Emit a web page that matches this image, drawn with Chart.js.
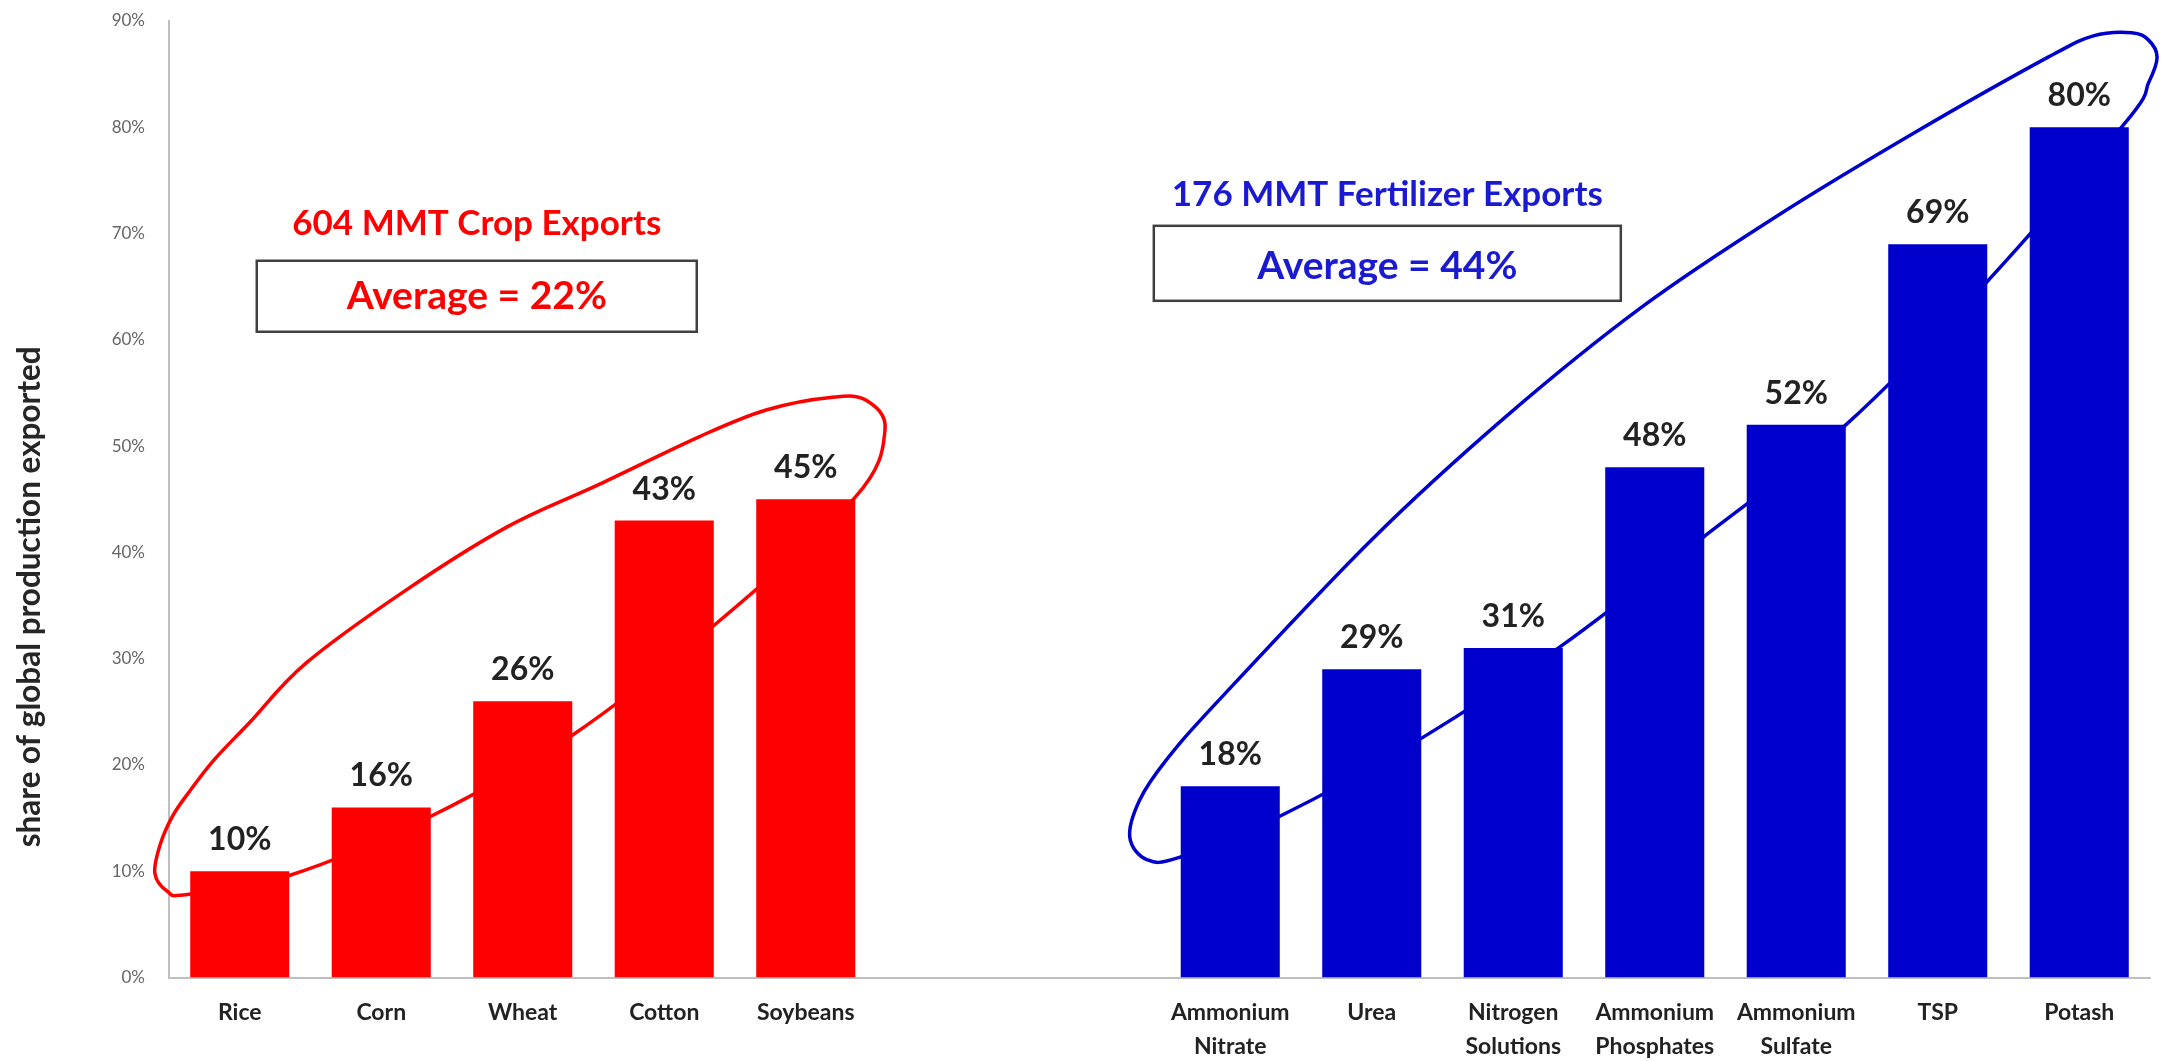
<!DOCTYPE html>
<html>
<head>
<meta charset="utf-8">
<title>Share of global production exported</title>
<script src="https://cdn.jsdelivr.net/npm/chart.js@4.4.1/dist/chart.umd.min.js"></script>
<style>
  html, body { margin: 0; padding: 0; background: #fff; }
  #wrap { width: 2165px; height: 1061px; }
</style>
</head>
<body>
<div id="wrap"><canvas id="chart" width="2165" height="1061"></canvas></div>
<script>
// crops and fertilizers, share of global production that is exported (%)
var cropNames = ['Rice', 'Corn', 'Wheat', 'Cotton', 'Soybeans'];
var cropShares = [10, 16, 26, 43, 45];
var fertilizerNames = [['Ammonium', 'Nitrate'], 'Urea', ['Nitrogen', 'Solutions'],
  ['Ammonium', 'Phosphates'], ['Ammonium', 'Sulfate'], 'TSP', 'Potash'];
var fertilizerShares = [18, 29, 31, 48, 52, 69, 80];
var gapLabels = ['', ''];
var yTickValues = [0, 10, 20, 30, 40, 50, 60, 70, 80, 90];

var groupTitles = ['604 MMT Crop Exports', '176 MMT Fertilizer Exports'];
var groupAverages = [22, 44];

// hand drawn loops round each group, as [category index, value] points
var cropLoop = [
  [-0.37, 7.8], [0.35, 9.6], [1.34, 15.1], [2.35, 22.8], [3.34, 33.0], [4.35, 45.2],
  [4.56, 51.5], [4.43, 54.3], [4.19, 54.6], [3.72, 53.4], [3.25, 50.9], [2.54, 46.4],
  [1.89, 42.4], [1.18, 36.5], [0.47, 29.6], [0.07, 24.0], [-0.18, 20.5], [-0.35, 17.6],
  [-0.47, 15.3], [-0.56, 12.6], [-0.6, 9.8], [-0.51, 8.1]
];
var fertilizerLoop = [
  [6.64, 11.3], [7.34, 15.1], [8.35, 22.5], [9.34, 31.2], [10.34, 41.4], [11.35, 52.0],
  [12.33, 65.2], [13.33, 80.5], [13.49, 84.2], [13.55, 86.6], [13.49, 88.2], [13.37, 88.9],
  [13.1, 88.6], [12.78, 86.6], [11.85, 79.6], [10.87, 71.7], [9.91, 63.1], [8.95, 52.8],
  [8.0, 41.2], [6.92, 26.1], [6.55, 20.5], [6.36, 16.7], [6.29, 13.2], [6.41, 11.1]
];

var RED = '#ff0000';
var BLUE = '#0000cc';
var BLUE_TEXT = '#1a1ad0';

function fill(n) {
  var out = [];
  for (var i = 0; i < n; i++) out.push(null);
  return out;
}

var labels = cropNames.concat(gapLabels, fertilizerNames);
var cropData = cropShares.concat(fill(gapLabels.length + fertilizerShares.length));
var fertilizerData = fill(cropShares.length + gapLabels.length).concat(fertilizerShares);

// category index / value -> canvas pixels
function toPixel(chart, idx, value) {
  var xs = chart.scales.x;
  var x0 = xs.getPixelForValue(0);
  var step = xs.getPixelForValue(1) - x0;
  return [x0 + idx * step, chart.scales.y.getPixelForValue(value)];
}

// closed catmull-rom curve through the points
function strokeLoop(ctx, pts) {
  var n = pts.length;
  ctx.beginPath();
  ctx.moveTo(pts[0][0], pts[0][1]);
  for (var i = 0; i < n; i++) {
    var p0 = pts[(i - 1 + n) % n], p1 = pts[i], p2 = pts[(i + 1) % n], p3 = pts[(i + 2) % n];
    ctx.bezierCurveTo(
      p1[0] + (p2[0] - p0[0]) / 6, p1[1] + (p2[1] - p0[1]) / 6,
      p2[0] - (p3[0] - p1[0]) / 6, p2[1] - (p3[1] - p1[1]) / 6,
      p2[0], p2[1]);
  }
  ctx.closePath();
  ctx.stroke();
}

var loopsPlugin = {
  id: 'loops',
  beforeDatasetsDraw: function(chart) {
    var ctx = chart.ctx;
    ctx.save();
    ctx.lineWidth = 3.5;
    ctx.lineJoin = 'round';
    ctx.strokeStyle = RED;
    strokeLoop(ctx, cropLoop.map(function(p) { return toPixel(chart, p[0], p[1]); }));
    ctx.strokeStyle = BLUE;
    strokeLoop(ctx, fertilizerLoop.map(function(p) { return toPixel(chart, p[0], p[1]); }));
    ctx.restore();
  }
};

var valueLabelsPlugin = {
  id: 'valueLabels',
  afterDatasetsDraw: function(chart) {
    var ctx = chart.ctx;
    ctx.save();
    ctx.font = 'bold 32px Lato';
    ctx.fillStyle = '#222';
    ctx.textAlign = 'center';
    ctx.textBaseline = 'alphabetic';
    chart.data.datasets.forEach(function(ds, di) {
      chart.getDatasetMeta(di).data.forEach(function(bar, i) {
        var v = ds.data[i];
        if (v === null) return;
        ctx.fillText(v + '%', bar.x, bar.y - 21);
      });
    });
    ctx.restore();
  }
};

// group captions with the boxed averages
var captionsPlugin = {
  id: 'captions',
  afterDraw: function(chart) {
    var ctx = chart.ctx;
    var groups = [
      { idx: 1.675, title: 70.9, avg: 64.1, box: 64.1, w: 440, h: 71, color: RED },
      { idx: 8.11, title: 73.7, avg: 66.9, box: 67.2, w: 467, h: 75, color: BLUE_TEXT }
    ];
    ctx.save();
    ctx.textAlign = 'center';
    ctx.textBaseline = 'middle';
    groups.forEach(function(g, i) {
      var c = toPixel(chart, g.idx, g.box);
      ctx.fillStyle = '#fff';
      ctx.fillRect(c[0] - g.w / 2, c[1] - g.h / 2, g.w, g.h);
      ctx.strokeStyle = '#404040';
      ctx.lineWidth = 2.5;
      ctx.strokeRect(c[0] - g.w / 2, c[1] - g.h / 2, g.w, g.h);

      ctx.fillStyle = g.color;
      ctx.font = 'bold 35px Lato';
      var t = toPixel(chart, g.idx, g.title);
      ctx.fillText(groupTitles[i], t[0], t[1]);
      ctx.font = 'bold 39px Lato';
      var a = toPixel(chart, g.idx, g.avg);
      ctx.fillText('Average = ' + groupAverages[i] + '%', a[0], a[1]);
    });

    // axis title, sits a little below the middle of the axis
    var area = chart.chartArea;
    ctx.translate(30, area.top + 0.602 * (area.bottom - area.top));
    ctx.rotate(-Math.PI / 2);
    ctx.fillStyle = '#262626';
    ctx.font = 'bold 31.5px Lato';
    ctx.fillText('share of global production exported', 0, 0);
    ctx.restore();
  }
};

new Chart(document.getElementById('chart').getContext('2d'), {
  type: 'bar',
  data: {
    labels: labels,
    datasets: [
      { label: 'Crops', data: cropData, backgroundColor: RED },
      { label: 'Fertilizers', data: fertilizerData, backgroundColor: BLUE }
    ]
  },
  options: {
    responsive: false,
    animation: false,
    devicePixelRatio: 1,
    layout: { padding: { left: 0, right: 15, top: 0, bottom: 0 } },
    datasets: { bar: { grouped: false, categoryPercentage: 1, barPercentage: 0.7 } },
    plugins: { legend: { display: false }, tooltip: { enabled: false } },
    scales: {
      x: {
        grid: { display: false },
        border: { display: true, color: '#bfbfbf', width: 2 },
        ticks: {
          autoSkip: false,
          maxRotation: 0,
          padding: 10,
          color: '#222',
          font: { family: 'Lato', size: 23, weight: 'bold', lineHeight: 1.48 }
        },
        afterFit: function(scale) { scale.height = 83.5; }
      },
      y: {
        min: 0,
        max: 90,
        grid: { display: false },
        border: { display: true, color: '#bfbfbf', width: 2 },
        afterBuildTicks: function(scale) {
          scale.ticks = yTickValues.map(function(v) { return { value: v }; });
        },
        ticks: {
          padding: 16,
          color: '#666',
          font: { family: 'Lato', size: 17 },
          callback: function(v) { return v + '%'; }
        },
        afterFit: function(scale) {
          scale.width = 169;
          scale.paddingTop = 21;
        }
      }
    }
  },
  plugins: [loopsPlugin, valueLabelsPlugin, captionsPlugin]
});
</script>
</body>
</html>
